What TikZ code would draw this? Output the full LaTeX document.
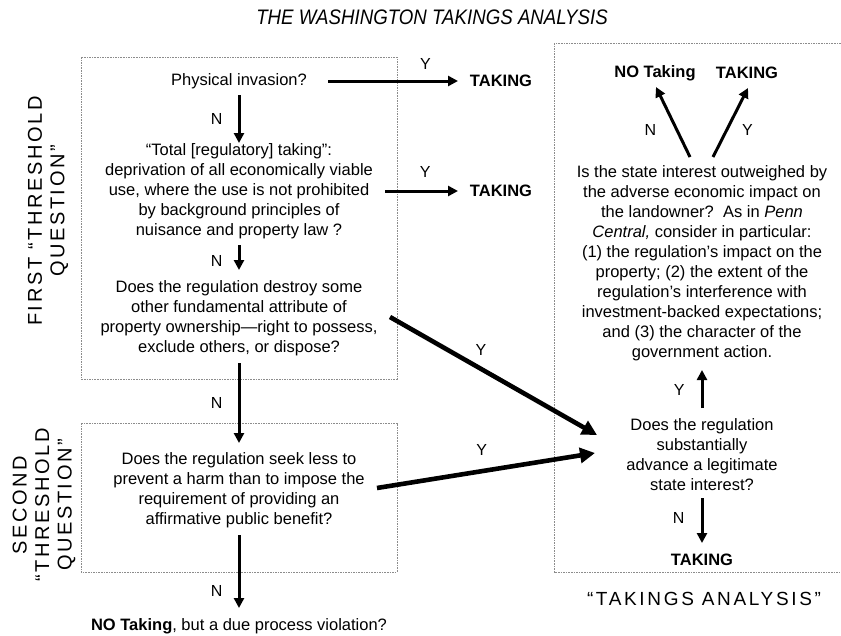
\documentclass[tikz,border=0pt]{standalone}
\usepackage{fontspec}
\setmainfont{Liberation Sans}
\usepackage{tikz}
\usetikzlibrary{arrows.meta,calc}

\begin{document}
\begin{tikzpicture}[x=1pt,y=-1pt,
    txt/.style={align=center,inner sep=0pt,font=\fontsize{16.5}{20}\selectfont},
    res/.style={inner sep=0pt,font=\fontsize{16.5}{20}\selectfont\bfseries},
    lbl/.style={inner sep=0pt,font=\fontsize{16}{20}\selectfont},
    caps/.style={align=center,inner sep=0pt,font=\fontsize{20}{22.5}\selectfont\addfontfeature{LetterSpace=13}},
    group/.style={draw=gray!90,line width=0.9pt,dash pattern=on 1.6pt off 1pt},
    arr/.style={-{Triangle[length=10pt,width=10pt]},line width=3pt},
    bigarr/.style={-{Triangle[length=15pt,width=15pt]},line width=4.6pt}]
  \useasboundingbox (0,0) rectangle (841,635);
  \draw[group] (81,57) rectangle (397,379); %first threshold%
  \draw[group] (81,423) rectangle (397,572); %second threshold%
  \draw[group] (554,43) rectangle (860,572); %takings analysis%

  \node[font=\fontsize{21}{24}\selectfont\itshape] (title) at (432,17) {\scalebox{0.89}[1]{THE WASHINGTON TAKINGS ANALYSIS}};
  \node[caps,rotate=90] (first) at (48,211) {FIRST “THRESHOLD\\QUESTION”};
  \node[caps,rotate=90] (second) at (44,505) {SECOND\\“THRESHOLD\\QUESTION”};
  \node[caps,font=\fontsize{19}{22}\selectfont\addfontfeature{LetterSpace=14}] (analysis) at (704,599) {“TAKINGS ANALYSIS”};

  % left column
  \node[txt] (phys) at (239,81) {Physical invasion?};
  \node[txt] (total) at (239,191) {“Total [regulatory] taking”:\\deprivation of all economically viable\\use, where the use is not prohibited\\by background principles of\\nuisance and property law ?};
  \node[txt] (destroy) at (239,318) {Does the regulation destroy some\\other fundamental attribute of\\property ownership—right to possess,\\exclude others, or dispose?};
  \node[txt] (seek) at (239,490) {Does the regulation seek less to\\prevent a harm than to impose the\\requirement of providing an\\affirmative public benefit?};
  \node[txt] (notake) at (239,626) {\textbf{NO Taking}, but a due process violation?};
  \node[res] (tk1) at (501,81) {TAKING};
  \node[res] (tk2) at (501,191) {TAKING};

  % right column
  \node[res] (notk) at (655,73) {NO Taking};
  \node[res] (tk4) at (747,73) {TAKING};
  \node[txt] (penn) at (702,263.5) {Is the state interest outweighed by\\the adverse economic impact on\\the landowner?\ \ As in \textit{Penn}\\\textit{Central,} consider in particular:\\(1) the regulation’s impact on the\\property; (2) the extent of the\\regulation’s interference with\\investment-backed expectations;\\and (3) the character of the\\government action.};
  \node[txt] (advance) at (702,455) {Does the regulation\\substantially\\advance a legitimate\\state interest?};
  \node[res] (tk3) at (702,560) {TAKING};

  \draw[arr] ($(phys)+(0,14)$) -- node[lbl,left=15pt] (n1) {N} ($(total)+(0,-48)$);
  \draw[arr] ($(phys)+(89,0)$) -- node[lbl,above=10pt,pos=0.75] (y1) {Y} ($(tk1)+(-43,0)$);
  \draw[arr] ($(total)+(146,0)$) -- node[lbl,above=12pt,pos=0.55] (y2) {Y} ($(tk2)+(-43,0)$);
  \draw[arr] ($(total)+(0,54)$) -- node[lbl,left=15pt,pos=0.64] (n2) {N} ($(destroy)+(0,-48)$);
  \draw[arr] ($(destroy)+(0,45)$) -- node[lbl,left=15pt] (n3) {N} ($(seek)+(0,-47)$);
  \draw[arr] ($(seek)+(0,45)$) -- node[lbl,left=15pt,pos=0.77] (n4) {N} ($(notake)+(0,-18)$);
  \draw[bigarr] ($(destroy)+(151,-1)$) -- node[lbl,above=11pt,pos=0.44] (y3) {Y} ($(advance)+(-105,-20)$);
  \draw[bigarr] ($(seek)+(138,-2)$) -- node[lbl,above=13pt,pos=0.48] (y4) {Y} ($(advance)+(-107,-2)$);
  \draw[arr] ($(advance)+(0,-47)$) -- node[lbl,left=16pt,pos=0.47] (y5) {Y} ($(penn)+(0,106.5)$);
  \draw[arr] ($(advance)+(0,43)$) -- node[lbl,left=16pt,pos=0.44] (n5) {N} ($(tk3)+(0,-17)$);
  \draw[arr] ($(penn)+(-12,-106.5)$) -- node[lbl,left=19pt,pos=0.39] (n6) {N} ($(notk)+(1,14)$);
  \draw[arr] ($(penn)+(11,-106.5)$) -- node[lbl,right=14pt,pos=0.39] (y6) {Y} ($(tk4)+(1,15)$);
\end{tikzpicture}
\end{document}
